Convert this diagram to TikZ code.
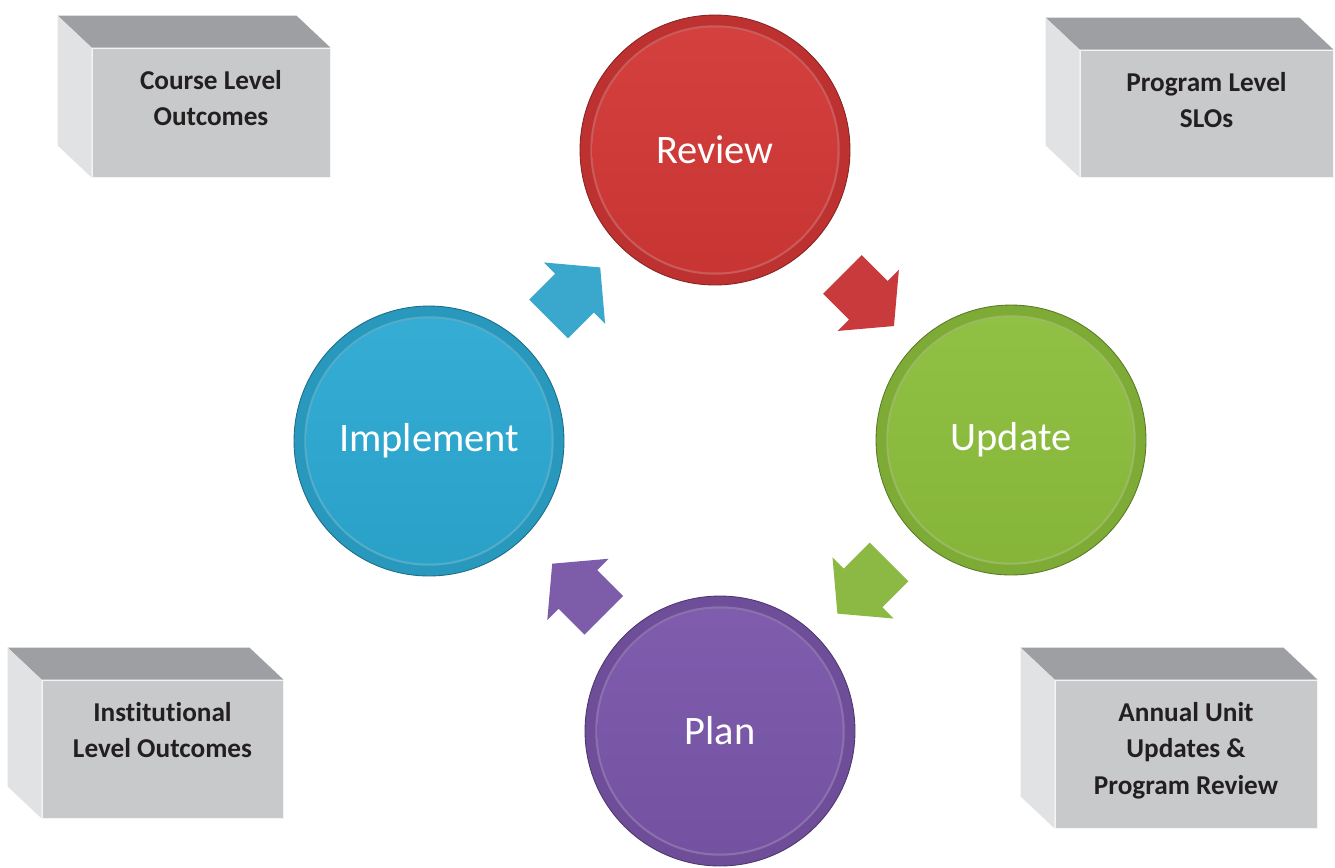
\documentclass[tikz,border=0pt]{standalone}
\usepackage{fontspec}
\setmainfont{Carlito}[Ligatures=NoCommon]
\usetikzlibrary{positioning,calc,shapes.arrows}

\definecolor{reviewred}{RGB}{210,56,54}
\definecolor{updategreen}{RGB}{140,190,60}
\definecolor{planpurple}{RGB}{122,86,170}
\definecolor{implementblue}{RGB}{44,169,210}
\definecolor{arrowred}{RGB}{200,58,60}
\definecolor{arrowgreen}{RGB}{140,184,68}
\definecolor{arrowpurple}{RGB}{125,92,170}
\definecolor{arrowblue}{RGB}{58,168,204}
\definecolor{boxfront}{RGB}{200,201,203}
\definecolor{boxtop}{RGB}{158,159,162}
\definecolor{boxside}{RGB}{225,226,228}
\definecolor{boxtext}{RGB}{35,31,32}

\begin{document}
\begin{tikzpicture}[x=0.02cm, y=-0.02cm,
    stage/.style = {circle, minimum size=5.4cm, inner sep=0pt, fill=#1!90!black, draw=#1!65!black, line width=0.5pt,
        text=white, font=\fontsize{23}{27}\selectfont,
        path picture={
            \draw[white, opacity=0.2, line width=1.4pt] (path picture bounding box.center) circle (2.47cm);
            \shade[top color=#1!96!white, bottom color=#1!95!black] (path picture bounding box.center) circle (2.45cm);
        }},
    flow/.style = {single arrow, fill=#1, minimum height=1.46cm, inner xsep=0pt, inner ysep=0.54cm,
        single arrow head extend=0.32cm, single arrow tip angle=100},
    face/.style = {rectangle, fill=boxfront, draw=white!80!boxfront, line width=0.5pt, inner sep=0pt},
    facetext/.style = {align=center, inner sep=0pt, text=boxtext, font=\bfseries\fontsize{15.5}{21}\selectfont}
]
    \fill[white] (0,0) rectangle (1335,867);
    \useasboundingbox (0,0) rectangle (1335,867);

    % the four stages of the cycle
    \node[stage=reviewred] (review) at (715,150) {Review};
    \node[stage=updategreen] (update) at (1011,440) {Update};
    \node[stage=planpurple] (plan) at (720,731) {Plan};
    \node[stage=implementblue] (implement) at (429,441) {Implement};

    % block arrows between the stages
    \node[flow=arrowblue, rotate=45] (toreview) at ($(implement)!0.48!(review)$) {};
    \node[flow=arrowred, rotate=-45] (toupdate) at ($(review)!0.49!(update)$) {};
    \node[flow=arrowgreen, rotate=-135] (toplan) at ($(update)!0.48!(plan)$) {};
    \node[flow=arrowpurple, rotate=135] (toimplement) at ($(plan)!0.46!(implement)$) {};

    % front faces of the corner boxes
    \node[face, minimum width=4.76cm, minimum height=2.58cm] (course) at (211,112.5) {};
    \node[face, minimum width=5.06cm, minimum height=2.54cm] (program) at (1206.5,113.5) {};
    \node[face, minimum width=4.82cm, minimum height=2.76cm] (institutional) at (162.5,749) {};
    \node[face, minimum width=5.24cm, minimum height=2.96cm] (annual) at (1186,754) {};

    % top and side faces
    \foreach \b in {course, program, institutional, annual} {
        \fill[boxtop] (\b.north west) -- ++(-34,-32) -- ($(\b.north east)+(-34,-32)$) -- (\b.north east) -- cycle;
        \fill[boxside] (\b.north west) -- ++(-34,-32) -- ($(\b.south west)+(-34,-32)$) -- (\b.south west) -- cycle;
    }

    \node[facetext, below=0.44cm of course.north] (coursetext) {Course Level\\Outcomes};
    \node[facetext, below=0.44cm of program.north] (programtext) {Program Level\\SLOs};
    \node[facetext, below=0.44cm of institutional.north] (institutionaltext) {Institutional\\Level Outcomes};
    \node[facetext, below=0.44cm of annual.north] (annualtext) {Annual Unit\\Updates \&\\Program Review};

\end{tikzpicture}
\end{document}
